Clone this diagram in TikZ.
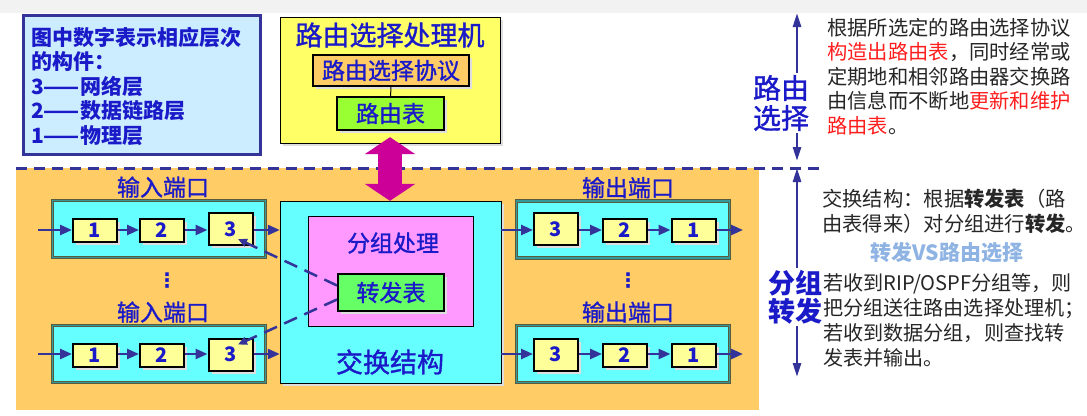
\documentclass[tikz,border=0pt]{standalone}
\usepackage{fontspec}
\setmainfont{Noto Sans CJK SC}
\newfontfamily\medcjk{Noto Sans CJK SC}[FakeBold=1.2]
\newfontfamily\dejavu{DejaVu Sans}
\usetikzlibrary{arrows.meta,shadows,positioning}
\definecolor{navy}{RGB}{51,51,153}
\definecolor{txtblue}{RGB}{26,26,200}
\definecolor{legendfill}{RGB}{204,236,255}
\definecolor{procyellow}{RGB}{255,255,102}
\definecolor{protoorange}{RGB}{255,204,102}
\definecolor{tablegreen}{RGB}{153,255,51}
\definecolor{fwdgreen}{RGB}{102,255,102}
\definecolor{portcyan}{RGB}{102,255,255}
\definecolor{layeryellow}{RGB}{255,255,153}
\definecolor{procpink}{RGB}{255,153,255}
\definecolor{bigmagenta}{RGB}{204,0,153}
\definecolor{areaorange}{RGB}{255,204,102}
\definecolor{hlred}{RGB}{255,30,30}
\definecolor{vsblue}{RGB}{143,180,227}
\definecolor{portedge}{RGB}{90,90,60}
\definecolor{portgap}{RGB}{51,153,153}
\newcommand{\fsz}[1]{\fontsize{#1}{#1}\selectfont}

\tikzset{
  shadowed/.style={drop shadow={shadow xshift=3pt,shadow yshift=-3pt,fill=black!13,opacity=1}},
  layerbox/.style={draw, line width=2pt, fill=layeryellow, shadowed, minimum width=44pt, minimum height=23pt, inner sep=0pt, text=txtblue, font=\fsz{20}\bfseries},
  layerbig/.style={layerbox, minimum height=32pt},
  portbox/.style={draw=portedge, double=portgap, double distance=1.6pt, line width=1pt, fill=portcyan, minimum width=213pt, minimum height=57pt},
  portlabel/.style={inner sep=0pt, text=txtblue, font=\medcjk\fsz{23}},
  innerbox/.style={draw, line width=2pt, shadowed, inner sep=0pt, text=txtblue, font=\medcjk\fsz{23}},
  flow/.style={navy, line width=2.5pt, -{Triangle[length=12pt,width=10pt]}},
  dashflow/.style={navy, line width=2.5pt, dash pattern=on 14pt off 8pt, -{Triangle[length=9pt,width=8pt]}},
  sidearrow/.style={navy, line width=2.5pt, {Triangle[length=14pt,width=8pt]}-{Triangle[length=14pt,width=8pt]}},
  dotsmark/.style={inner sep=0pt, text=txtblue, font=\dejavu\bfseries\fsz{20}},
  desc/.style={anchor=north west, inner sep=0pt, align=left, text=black!85, font=\fontsize{20.3}{24.5}\selectfont}
}

\begin{document}
\begin{tikzpicture}[x=1pt,y=-1pt]
\useasboundingbox (0,0) rectangle (1087,415);
\fill[white] (0,0) rectangle (1087,415);
\fill[black!5] (0,0) rectangle (1087,13);

% legend
\node[draw=navy, line width=3pt, fill=legendfill, minimum width=237pt, minimum height=139pt, anchor=north west] (legend) at (22,14) {};
\node[anchor=north west, inner sep=0pt, align=left, text=txtblue, font=\fontsize{21}{24.5}\selectfont\bfseries] (legendtext) at (31,27)
  {图中数字表示相应层次\\的构件：\\3——网络层\\2——数据链路层\\1——物理层};

% routing processor
\node[draw, fill=procyellow, shadowed, minimum width=220pt, minimum height=126pt] (router) at (390,80) {};
\node[text=txtblue, font=\medcjk\fsz{27}] (routertitle) at (390,35) {路由选择处理机};
\node[innerbox, fill=protoorange, minimum width=156pt, minimum height=31pt] (proto) at (391,70.5) {路由选择协议};
\node[innerbox, fill=tablegreen, minimum width=107pt, minimum height=33pt] (rtable) at (390.5,113.5) {路由表};
\draw[line width=1pt] (proto) -- (rtable);

% switching area
\fill[areaorange] (16,168) rectangle (759,410);
\draw[navy, line width=3pt, dash pattern=on 11pt off 7pt] (16,168) -- (825,168);

\node[draw, fill=portcyan, shadowed, minimum width=221pt, minimum height=182pt] (switch) at (390.5,292) {};
\node[draw, fill=procpink, minimum width=165pt, minimum height=110pt] (proc) at (390.5,271) {};
\node[text=txtblue, font=\medcjk\fsz{23}] (proctitle) at (393,243) {分组处理};
\node[innerbox, fill=fwdgreen, minimum width=106pt, minimum height=37pt] (fwd) at (391,292.5) {转发表};
\node[text=txtblue, font=\medcjk\fsz{27}] (switchtitle) at (390,362) {交换结构};

\draw[bigmagenta, line width=24pt, {Triangle[length=17pt,width=50pt]}-{Triangle[length=17pt,width=50pt]}, shorten <=-6pt]
  (router.south) -- (router.south |- switch.north);

% input ports
\node[portbox] (inport1) at (159,229) {};
\node[portbox] (inport2) at (159,354) {};
\node[portlabel, above=2pt of inport1, xshift=4pt] (inlabel1) {输入端口};
\node[portlabel, above=2pt of inport2, xshift=4pt] (inlabel2) {输入端口};
\node[dotsmark] (indots) at (167,281) {⋮};

\node[layerbox] (in1a) at (95,230.5) {1};
\node[layerbox] (in1b) at (162,230) {2};
\node[layerbig] (in1c) at (230.5,229) {3};
\node[layerbox] (in2a) at (95,355) {1};
\node[layerbox] (in2b) at (162,355) {2};
\node[layerbig] (in2c) at (230.5,354.5) {3};

\coordinate (src1) at (38,230);
\coordinate (src2) at (38,354);
\draw[flow] (src1) -- (in1a.west |- src1);
\draw[flow] (in1a.east |- src1) -- (in1b.west |- src1);
\draw[flow] (in1b.east |- src1) -- (in1c.west |- src1);
\draw[flow] (in1c.east |- src1) -- (switch.west |- src1);
\draw[flow] (src2) -- (in2a.west |- src2);
\draw[flow] (in2a.east |- src2) -- (in2b.west |- src2);
\draw[flow] (in2b.east |- src2) -- (in2c.west |- src2);
\draw[flow] (in2c.east |- src2) -- (switch.west |- src2);

\draw[dashflow] ([yshift=7pt]fwd.west) -- ([xshift=7.5pt,yshift=-10pt]in1c.center);
\draw[dashflow] ([yshift=-7pt]fwd.west) -- ([xshift=7.5pt,yshift=10pt]in2c.center);

% output ports
\node[portbox] (outport1) at (623,229.5) {};
\node[portbox] (outport2) at (623,354) {};
\node[portlabel, above=2pt of outport1, xshift=5pt] (outlabel1) {输出端口};
\node[portlabel, above=2pt of outport2, xshift=5pt] (outlabel2) {输出端口};
\node[dotsmark] (outdots) at (628,281) {⋮};

\node[layerbig] (out1c) at (556,229) {3};
\node[layerbox] (out1b) at (625,230) {2};
\node[layerbox] (out1a) at (693.5,230.5) {1};
\node[layerbig] (out2c) at (556,354.5) {3};
\node[layerbox] (out2b) at (625,355) {2};
\node[layerbox] (out2a) at (693.5,355) {1};

\coordinate (sink1) at (743,230);
\coordinate (sink2) at (743,354);
\draw[flow] (switch.east |- sink1) -- (out1c.west |- sink1);
\draw[flow] (out1c.east |- sink1) -- (out1b.west |- sink1);
\draw[flow] (out1b.east |- sink1) -- (out1a.west |- sink1);
\draw[flow] (out1a.east |- sink1) -- (sink1);
\draw[flow] (switch.east |- sink2) -- (out2c.west |- sink2);
\draw[flow] (out2c.east |- sink2) -- (out2b.west |- sink2);
\draw[flow] (out2b.east |- sink2) -- (out2a.west |- sink2);
\draw[flow] (out2a.east |- sink2) -- (sink2);

% right side
\coordinate (rtop) at (797,13);
\coordinate (rmid) at (797,161);
\coordinate (fmid) at (797,168);
\coordinate (fbot) at (797,377);
\draw[sidearrow] (rtop) -- (rmid);
\draw[sidearrow] (fmid) -- (fbot);
\node[fill=white, inner sep=2pt, align=center, text=txtblue, font=\medcjk\fontsize{28}{30}\selectfont] (routelabel) at (781,103) {路由\\选择};
\node[fill=white, inner sep=2pt, align=center, text=txtblue, font=\fontsize{27}{28}\selectfont\bfseries] (fwdlabel) at (795,297) {分组\\转发};

\node[desc] (routedesc) at (827,18)
  {根据所选定的路由选择协议\\\textcolor{hlred}{构造出路由表}，同时经常或\\定期地和相邻路由器交换路\\由信息而不断地\textcolor{hlred}{更新和维护}\\\textcolor{hlred}{路由表}。};
\node[desc] (switchdesc) at (822,189)
  {交换结构：根据\textbf{转发表}（路\\由表得来）对分组进行\textbf{转发}。};
\node[text=vsblue, font=\fsz{21}\bfseries] (vslabel) at (947,253) {转发VS路由选择};
\node[desc, font=\fontsize{20.1}{25}\selectfont] (fwddesc) at (823,273)
  {若收到RIP/OSPF分组等，则\\把分组送往路由选择处理机；\\若收到数据分组，则查找转\\发表并输出。};
\end{tikzpicture}
\end{document}
